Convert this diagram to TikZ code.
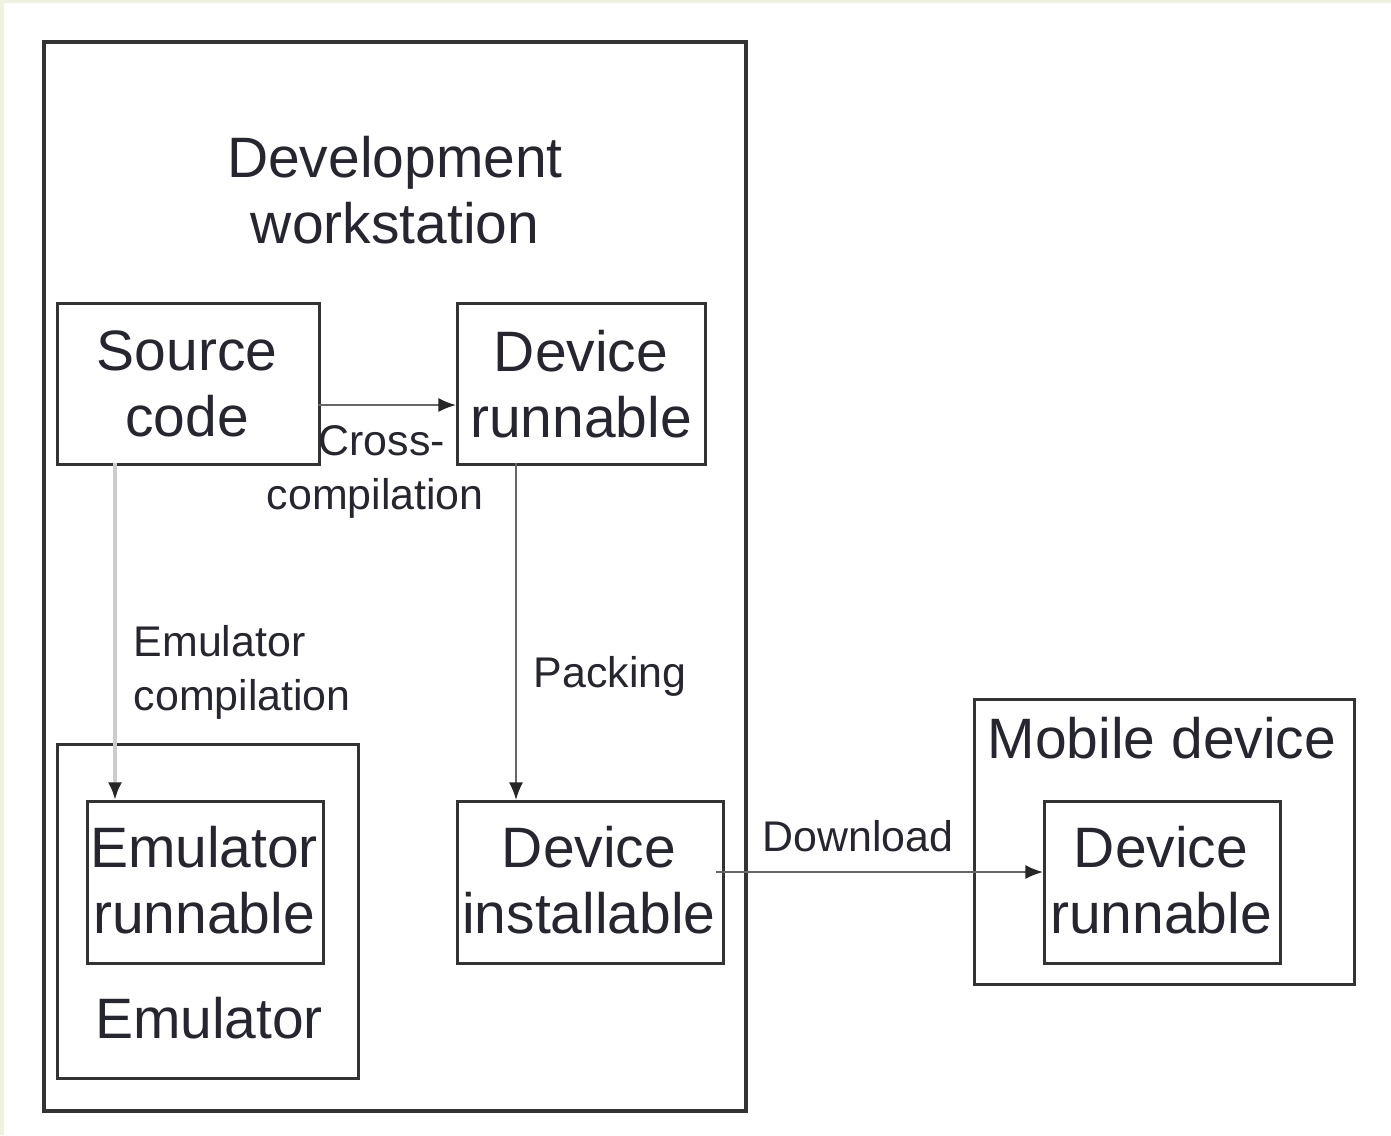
\documentclass[tikz,border=0pt]{standalone}
\usepackage{fontspec}
\setmainfont{Liberation Sans}
\usetikzlibrary{arrows.meta}
\definecolor{txt}{HTML}{262630}
\definecolor{cream}{HTML}{EEF2E0}
\tikzset{
  x=0.01cm, y=-0.01cm,
  box/.style={draw=black!80, line width=0.9pt, inner sep=0pt, anchor=north west},
  big/.style={font=\fontsize{16.2pt}{18.8pt}\selectfont, text=txt, align=center},
  lbl/.style={font=\fontsize{12.2pt}{15.3pt}\selectfont, text=txt, align=left, inner sep=0pt, anchor=west},
  conn/.style={draw=black!60, line width=0.55pt, -{Latex[length=5pt,width=4pt,color=black!85]}},
  emuconn/.style={draw=black!20, line width=1.4pt, -{Latex[length=5pt,width=4pt,color=black!85]}},
}
\begin{document}
\begin{tikzpicture}
\useasboundingbox (0,0) rectangle (1391,1135);
\fill[cream] (0,0) rectangle (1391,1135);
\fill[white] (4,3) rectangle (1391,1135);

% outer development box
\node[box, line width=1.1pt, minimum width=7.02cm, minimum height=10.68cm] (dev) at (42,40) {};
\node[big] (title) at (395,190) {Development\\workstation};

% source code
\node[box, minimum width=2.62cm, minimum height=1.61cm] (srcbox) at (56,302) {};
\node[big] (src) at (187,384) {Source\\code};
\coordinate (srcE) at (318,405);
\coordinate (srcS) at (115,463);

% device runnable (workstation)
\node[box, minimum width=2.48cm, minimum height=1.61cm] (drbox) at (456,302) {};
\node[big] (dr) at (581,384) {Device\\runnable};
\coordinate (drW) at (456,405);
\coordinate (drS) at (516,463);

% emulator box
\node[box, minimum width=3.01cm, minimum height=3.34cm] (embox) at (56,743) {};
\node[big] (emlbl) at (209,1018) {Emulator};

% emulator runnable
\node[box, minimum width=2.36cm, minimum height=1.62cm] (erbox) at (86,800) {};
\node[big] (er) at (204,880) {Emulator\\runnable};
\coordinate (erN) at (115,800);

% device installable
\node[box, minimum width=2.66cm, minimum height=1.62cm] (dibox) at (456,800) {};
\node[big] (di) at (589,880) {Device\\installable};
\coordinate (diN) at (516,800);
\coordinate (diE) at (716,872);

% mobile device
\node[box, minimum width=3.80cm, minimum height=2.85cm] (mdbox) at (973,698) {};
\node[big] (md) at (1162,738) {Mobile device};

% device runnable (mobile)
\node[box, minimum width=2.36cm, minimum height=1.62cm] (mrbox) at (1043,800) {};
\node[big] (mr) at (1161,880) {Device\\runnable};
\coordinate (mrW) at (1043,872);

% connectors
\draw[conn] (srcE) -- (drW);
\draw[conn] (drS) -- (diN);
\draw[emuconn] (srcS) -- (erN);
\draw[conn] (diE) -- (mrW);

% labels
\node[lbl] (cross) at (318,441) {Cross-};
\node[lbl] (comp) at (266,498) {compilation};
\node[lbl] (pack) at (533,676) {Packing};
\node[lbl] (emc) at (133,672) {Emulator\\compilation};
\node[lbl] (dl) at (762,836) {Download};
\end{tikzpicture}
\end{document}
